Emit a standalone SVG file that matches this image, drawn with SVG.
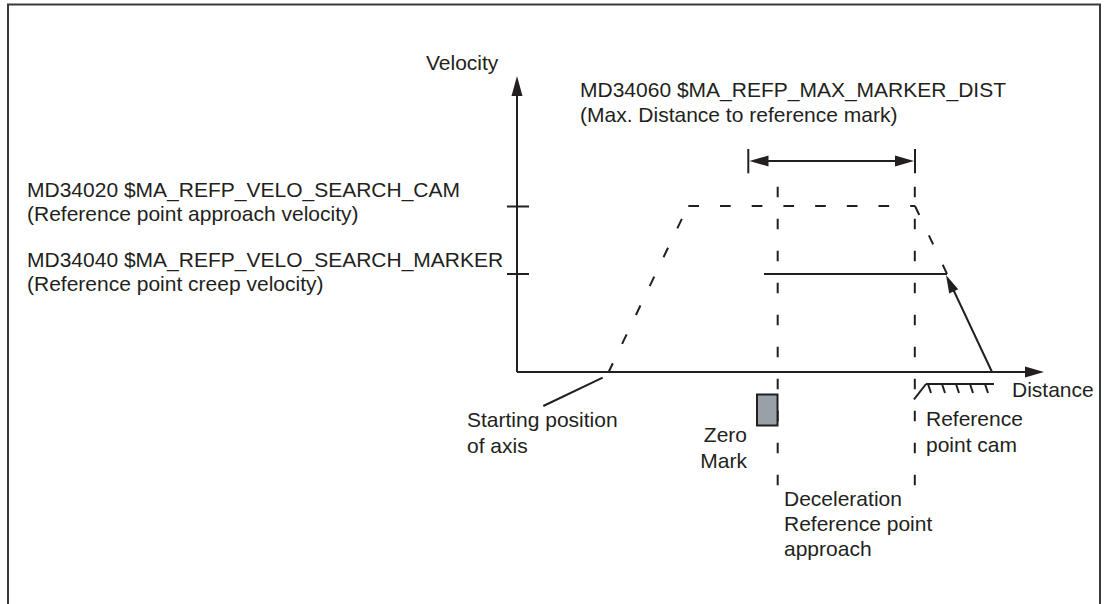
<svg xmlns="http://www.w3.org/2000/svg" width="1106" height="604" viewBox="0 0 1106 604">
<style>
text{font-family:"Liberation Sans",Arial,sans-serif;font-size:21px;fill:#231f20}
.ln{stroke:#231f20;stroke-width:2;fill:none}
.ds{stroke:#231f20;stroke-width:2;fill:none;stroke-dasharray:10.5 21.5}
.ah{fill:#231f20;stroke:none}
</style>
<rect width="1106" height="604" fill="#fff"/>
<path d="M8,604 V4.5 H1100 V604" fill="none" stroke="#3a3a3a" stroke-width="2"/>
<g id="axes">
<line class="ln" x1="517" y1="372" x2="517" y2="94"/>
<polygon class="ah" points="517,76 511.5,96 522.5,96"/>
<line class="ln" x1="517" y1="372" x2="1027" y2="372"/>
<polygon class="ah" points="1044,372 1025,366.5 1025,377.5"/>
<line class="ln" x1="507" y1="206.5" x2="529" y2="206.5"/>
<line class="ln" x1="507" y1="274" x2="529" y2="274"/>
<text x="426" y="70">Velocity</text>
<text x="1012" y="397">Distance</text>
</g>
<g id="profile">
<path class="ds" d="M608.3,372.7 L688,206"/>
<path class="ds" d="M688.3,206 H915" style="stroke-dasharray:10.7 21"/>
<path class="ds" d="M915,206 L948,276" style="stroke-dasharray:10 22.5"/>
</g>
<g id="connectors">
<path class="ds" d="M777.7,186.7 V487"/>
<path class="ds" d="M914.8,186.7 V487"/>
<line class="ln" x1="748.3" y1="149" x2="748.3" y2="173.3"/>
<line class="ln" x1="915" y1="149" x2="915" y2="173.3"/>
<line class="ln" x1="765" y1="161" x2="898" y2="161"/>
<polygon class="ah" points="749.5,161 768.5,155.5 768.5,166.5"/>
<polygon class="ah" points="914,161 895,155.5 895,166.5"/>
<line class="ln" x1="764" y1="274" x2="947" y2="274"/>
<line class="ln" x1="992" y1="372" x2="953" y2="289"/>
<polygon class="ah" points="946,275 958.2,289.2 949.2,293.4"/>
<line class="ln" x1="543.3" y1="406" x2="602.7" y2="377.7"/>
</g>
<g id="max-dist-label">
<text x="580" y="97">MD34060 $MA_REFP_MAX_MARKER_DIST</text>
<text x="580" y="122">(Max. Distance to reference mark)</text>
</g>
<g id="cam-velocity-label">
<text x="27" y="197">MD34020 $MA_REFP_VELO_SEARCH_CAM</text>
<text x="27" y="221">(Reference point approach velocity)</text>
</g>
<g id="creep-velocity-label">
<text x="27" y="267">MD34040 $MA_REFP_VELO_SEARCH_MARKER</text>
<text x="27" y="291">(Reference point creep velocity)</text>
</g>
<g id="reference-cam">
<line class="ln" x1="914" y1="399.3" x2="926" y2="384"/>
<line class="ln" x1="926" y1="384" x2="994" y2="384"/>
<path class="ln" d="M928,384 l3,9 M942,384 l3,9 M956,384 l3,9 M970,384 l3,9 M985,384 l3,9"/>
<text x="926" y="426">Reference</text>
<text x="926" y="452">point cam</text>
</g>
<g id="zero-mark">
<rect x="757" y="394.5" width="20.5" height="31" fill="#9aa0a8" stroke="#231f20" stroke-width="2"/>
<text x="747" y="442" text-anchor="end">Zero</text>
<text x="747" y="468" text-anchor="end">Mark</text>
</g>
<g id="start-label">
<text x="467" y="427">Starting position</text>
<text x="467" y="453">of axis</text>
</g>
<g id="decel-label">
<text x="784" y="506">Deceleration</text>
<text x="784" y="531">Reference point</text>
<text x="784" y="556">approach</text>
</g>
</svg>
